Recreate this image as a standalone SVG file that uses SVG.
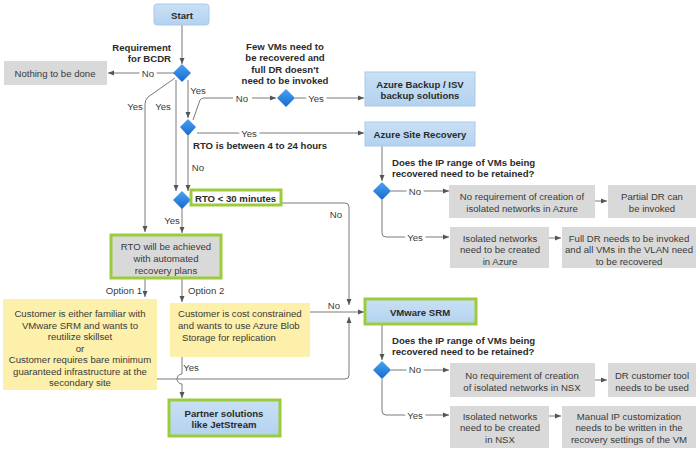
<svg xmlns="http://www.w3.org/2000/svg" width="700" height="453" viewBox="0 0 700 453">
<defs>
<linearGradient id="dg" x1="0" y1="0" x2="0" y2="1"><stop offset="0" stop-color="#4AA3F0"/><stop offset="1" stop-color="#1769D0"/></linearGradient>
<linearGradient id="bg" x1="0" y1="0" x2="0" y2="1"><stop offset="0" stop-color="#C9E0F5"/><stop offset="1" stop-color="#B3D2EF"/></linearGradient>
<marker id="ah" viewBox="0 0 6 6" refX="6" refY="3" markerWidth="6" markerHeight="6" markerUnits="userSpaceOnUse" orient="auto"><path d="M0,0.5 L6,3 L0,5.5 Z" fill="#555"/></marker>
<style>
text{font-family:"Liberation Sans",Arial,sans-serif;font-size:9.6px;fill:#3a3a3a;dominant-baseline:central}
.b{font-weight:bold;fill:#2b2b2b}
.c{text-anchor:middle}
.e{text-anchor:end}
.grey{fill:#D9D9D9}
.blue{fill:url(#bg);stroke:#A8CBEA;stroke-width:1}
.yel{fill:#FDF0AA}
.gr{stroke:#9CCB3B;stroke-width:3}
.dia{fill:url(#dg)}
.ln{fill:none;stroke:#7a7a7a;stroke-width:1}
.ar{marker-end:url(#ah)}
.lb{paint-order:stroke;stroke:#fff;stroke-width:6px;stroke-linejoin:round}
</style>
</defs>
<rect width="700" height="453" fill="#fff"/>

<g id="connectors">
<path class="ln ar" d="M182,25 L182,64"/>
<path class="ln ar" d="M174,73 L108,73"/>
<path class="ln ar" d="M175,78 L148,97 Q145,100 145,104 L145,232"/>
<path class="ln ar" d="M176,80 L176,191"/>
<path class="ln ar" d="M188,80 L188,118"/>
<path class="ln" d="M193,120 L200,100 Q201,98 204,98 L233,98"/>
<path class="ln ar" d="M252,98 L276,98"/>
<path class="ln ar" d="M295,98 L364,98"/>
<path class="ln ar" d="M197,133 L364,133"/>
<path class="ln ar" d="M188,136 L188,191"/>
<path class="ln ar" d="M282,203 L345,203 Q349,203 349,207 L349,305"/>
<path class="ln ar" d="M182,208 L182,233"/>
<path class="ln ar" d="M145,279 L145,297"/>
<path class="ln ar" d="M182,279 L182,302"/>
<path class="ln ar" d="M310,312 L364,312"/>
<path class="ln ar" d="M157,379 L345,379 Q349,379 349,375 L349,317"/>
<path class="ln ar" d="M182,357 L182,374 A5,5 0 0 0 182,384 L182,398"/>
<path class="ln ar" d="M382,146 L382,181"/>
<path class="ln ar" d="M391,191 L449,191"/>
<path class="ln ar" d="M595,201 L607,201"/>
<path class="ln ar" d="M382,200 L382,233 Q382,237 386,237 L449,237"/>
<path class="ln ar" d="M549,238 L561,238"/>
<path class="ln ar" d="M382,324 L382,360"/>
<path class="ln ar" d="M391,370 L449,370"/>
<path class="ln ar" d="M595,380 L607,380"/>
<path class="ln ar" d="M382,379 L382,411 Q382,415 386,415 L449,415"/>
<path class="ln ar" d="M549,416 L561,416"/>
<text x="148" y="73" class="c lb">No</text>
<text x="135" y="106" class="c">Yes</text>
<text x="163" y="106" class="c">Yes</text>
<text x="198" y="90" class="c">Yes</text>
<text x="242" y="98" class="c">No</text>
<text x="316" y="98" class="c lb">Yes</text>
<text x="249" y="133" class="c lb">Yes</text>
<text x="198" y="167" class="c">No</text>
<text x="336" y="214" class="c">No</text>
<text x="172" y="220" class="c">Yes</text>
<text x="142" y="290" class="e">Option 1</text>
<text x="188" y="290">Option 2</text>
<text x="334" y="305" class="c">No</text>
<text x="191" y="367" class="c">Yes</text>
<text x="415" y="191" class="c lb">No</text>
<text x="415" y="237" class="c lb">Yes</text>
<text x="415" y="369" class="c lb">No</text>
<text x="415" y="415" class="c lb">Yes</text>
</g>

<g id="start"><rect class="blue" x="154" y="4" width="55" height="21" rx="3"/><text x="182" y="15" class="b c">Start</text></g>

<g id="d-bcdr"><path class="dia" d="M182,64 L191,73 L182,82 L173,73 Z"/>
<text x="171" y="47" class="b e">Requirement</text><text x="171" y="58" class="b e">for BCDR</text></g>

<g id="nothing"><rect class="grey" x="4" y="61" width="103" height="24"/><text x="55" y="73" class="c">Nothing to be done</text></g>

<g id="d-rto24"><path class="dia" d="M188,119 L196,127 L188,136 L180,127 Z"/>
<text x="193" y="145" class="b">RTO is between 4 to 24 hours</text></g>

<g id="d-fewvms"><path class="dia" d="M286,89 L295,98 L286,107 L277,98 Z"/>
<text x="285" y="46" class="b c">Few VMs need to</text><text x="285" y="57.5" class="b c">be recovered and</text><text x="285" y="69" class="b c">full DR doesn't</text><text x="285" y="80.5" class="b c">need to be invoked</text></g>

<g id="azbackup"><rect class="blue" x="365" y="72" width="110" height="34"/><text x="420" y="84" class="b c">Azure Backup / ISV</text><text x="420" y="95" class="b c">backup solutions</text></g>

<g id="asr"><rect class="blue" x="365" y="122" width="110" height="24"/><text x="420" y="134" class="b c">Azure Site Recovery</text></g>

<g id="d-rto30"><path class="dia" d="M182,191 L191,200 L182,209 L173,200 Z"/></g>
<g id="rto30"><rect x="191" y="190" width="90" height="15" fill="#fff" class="gr"/><text x="195" y="198" class="b">RTO &lt; 30 minutes</text></g>

<g id="automated"><rect class="grey gr" x="111" y="235" width="110" height="43"/><text x="166" y="246" class="c">RTO will be achieved</text><text x="166" y="258" class="c">with automated</text><text x="166" y="270" class="c">recovery plans</text></g>

<g id="opt1"><rect class="yel" x="3" y="299" width="154" height="91"/>
<text x="80" y="313" class="c">Customer is either familiar with</text>
<text x="80" y="325" class="c">VMware SRM and wants to</text>
<text x="80" y="336.5" class="c">reutilize skillset</text>
<text x="80" y="348" class="c">or</text>
<text x="80" y="359.5" class="c">Customer requires bare minimum</text>
<text x="80" y="371" class="c">guaranteed infrastructure at the</text>
<text x="80" y="382.5" class="c">secondary site</text></g>

<g id="opt2"><rect class="yel" x="170" y="303" width="140" height="54"/>
<text x="178" y="313">Customer is cost constrained</text>
<text x="178" y="325">and wants to use Azure Blob</text>
<text x="182" y="337">Storage for replication</text></g>

<g id="partner"><rect class="blue gr" x="169" y="400" width="111" height="36"/><text x="224" y="413" class="b c">Partner solutions</text><text x="224" y="424" class="b c">like JetStream</text></g>

<g id="srm"><rect class="blue gr" x="365" y="299" width="111" height="25"/><text x="420" y="312" class="b c">VMware SRM</text></g>

<g id="d-asr-ip"><path class="dia" d="M382,182 L391,191 L382,200 L373,191 Z"/>
<text x="392" y="162" class="b">Does the IP range of VMs being</text><text x="392" y="173" class="b">recovered need to be retained?</text></g>

<g id="asr-no1"><rect class="grey" x="449" y="185" width="146" height="33"/><text x="522" y="196" class="c">No requirement of creation of</text><text x="522" y="208" class="c">isolated networks in Azure</text></g>
<g id="asr-no2"><rect class="grey" x="608" y="185" width="88" height="33"/><text x="652" y="196" class="c">Partial DR can</text><text x="652" y="208" class="c">be invoked</text></g>
<g id="asr-yes1"><rect class="grey" x="450" y="227" width="99" height="41"/><text x="500" y="238" class="c">Isolated networks</text><text x="500" y="249.5" class="c">need to be created</text><text x="500" y="261" class="c">in Azure</text></g>
<g id="asr-yes2"><rect class="grey" x="562" y="227" width="134" height="41"/><text x="629" y="238" class="c">Full DR needs to be invoked</text><text x="629" y="249.5" class="c">and all VMs in the VLAN need</text><text x="629" y="261" class="c">to be recovered</text></g>

<g id="d-srm-ip"><path class="dia" d="M382,361 L391,370 L382,379 L373,370 Z"/>
<text x="392" y="340" class="b">Does the IP range of VMs being</text><text x="392" y="351" class="b">recovered need to be retained?</text></g>

<g id="srm-no1"><rect class="grey" x="450" y="363" width="145" height="34"/><text x="522" y="375" class="c">No requirement of creation</text><text x="522" y="387" class="c">of isolated networks in NSX</text></g>
<g id="srm-no2"><rect class="grey" x="608" y="363" width="88" height="34"/><text x="652" y="375" class="c">DR customer tool</text><text x="652" y="387" class="c">needs to be used</text></g>
<g id="srm-yes1"><rect class="grey" x="450" y="406" width="99" height="42"/><text x="500" y="416" class="c">Isolated networks</text><text x="500" y="427.5" class="c">need to be created</text><text x="500" y="439" class="c">in NSX</text></g>
<g id="srm-yes2"><rect class="grey" x="562" y="406" width="134" height="42"/><text x="629" y="416" class="c">Manual IP customization</text><text x="629" y="427.5" class="c">needs to be written in the</text><text x="629" y="439" class="c">recovery settings of the VM</text></g>
</svg>
